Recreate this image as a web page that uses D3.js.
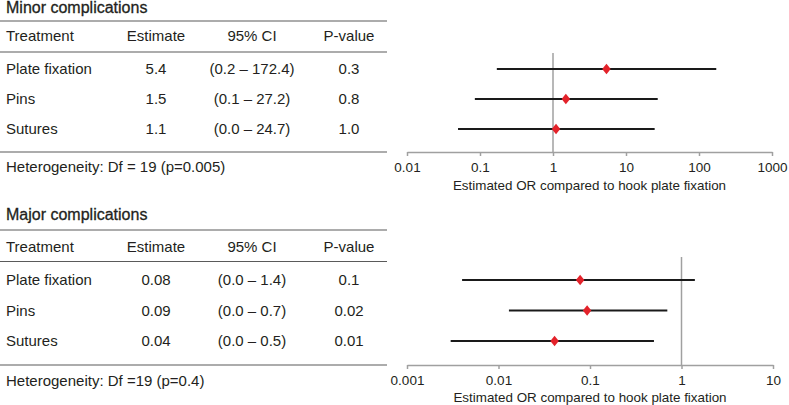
<!DOCTYPE html>
<html>
<head>
<meta charset="utf-8">
<script src="https://cdn.jsdelivr.net/npm/d3@7"></script>
<style>
  body { margin: 0; background: #fff; }
  svg { display: block; font-family: "Liberation Sans", Arial, Helvetica, sans-serif; }
</style>
</head>
<body>
<svg width="789" height="405"></svg>
<script>
  // --- data ---
  var treatments = ["Plate fixation", "Pins", "Sutures"];
  var headers = ["Treatment", "Estimate", "95% CI", "P-value"];

  var minorEstimate = [5.4, 1.5, 1.1];
  var minorLow = [0.17, 0.085, 0.05];
  var minorHigh = [172.4, 27.2, 24.7];
  var minorEstLabels = ["5.4", "1.5", "1.1"];
  var minorCiLabels = ["(0.2 \u2013 172.4)", "(0.1 \u2013 27.2)", "(0.0 \u2013 24.7)"];
  var minorP = ["0.3", "0.8", "1.0"];
  var minorTicks = [0.01, 0.1, 1, 10, 100, 1000];
  var minorTickLabels = ["0.01", "0.1", "1", "10", "100", "1000"];

  var majorEstimate = [0.078, 0.093, 0.041];
  var majorLow = [0.004, 0.013, 0.003];
  var majorHigh = [1.4, 0.7, 0.5];
  var majorEstLabels = ["0.08", "0.09", "0.04"];
  var majorCiLabels = ["(0.0 \u2013 1.4)", "(0.0 \u2013 0.7)", "(0.0 \u2013 0.5)"];
  var majorP = ["0.1", "0.02", "0.01"];
  var majorTicks = [0.001, 0.01, 0.1, 1, 10];
  var majorTickLabels = ["0.001", "0.01", "0.1", "1", "10"];

  var axisTitle = "Estimated OR compared to hook plate fixation";

  var panels = [
    {
      title: "Minor complications", foot: "Heterogeneity: Df = 19 (p=0.005)",
      est: minorEstimate, lo: minorLow, hi: minorHigh,
      estLab: minorEstLabels, ciLab: minorCiLabels, p: minorP,
      ticks: minorTicks, tickLab: minorTickLabels,
      domain: [0.01, 1000], xr: [407, 772],
      titleY: 7, topLine: 21, headY: 36, headLine: 52, rows: [69, 129],
      bottomLine: 152, footY: 167, refTop: 53, axisTitleY: 185
    },
    {
      title: "Major complications", foot: "Heterogeneity: Df =19 (p=0.4)",
      est: majorEstimate, lo: majorLow, hi: majorHigh,
      estLab: majorEstLabels, ciLab: majorCiLabels, p: majorP,
      ticks: majorTicks, tickLab: majorTickLabels,
      domain: [0.001, 10], xr: [407, 773],
      titleY: 214, topLine: 230, headY: 246.5, headLine: 261.5, rows: [280, 341],
      bottomLine: 365, footY: 380.5, refTop: 257, axisTitleY: 397
    }
  ];

  var colX = [6, 156, 252, 349];
  var tableRight = 387;
  var textColor = "#231f20";
  var ruleColor = "#5a5a5a";
  var axisColor = "#a0a0a0";

  var svg = d3.select("svg");

  panels.forEach(function (p) {
    var g = svg.append("g");
    var y = d3.scalePoint().domain(treatments).range(p.rows);
    var x = d3.scaleLog().domain(p.domain).range(p.xr);

    // title
    g.append("text")
      .attr("x", 6).attr("y", p.titleY).attr("dy", "0.35em")
      .attr("font-size", 16).attr("fill", textColor)
      .attr("stroke", textColor).attr("stroke-width", 0.3)
      .text(p.title);

    // table rules
    [p.topLine, p.headLine, p.bottomLine].forEach(function (ly) {
      g.append("line")
        .attr("x1", 0).attr("x2", tableRight)
        .attr("y1", ly).attr("y2", ly)
        .attr("stroke", ruleColor).attr("stroke-width", 1.2);
    });

    // header
    g.selectAll("text.head").data(headers).enter()
      .append("text").attr("class", "head")
      .attr("x", function (d, i) { return colX[i]; })
      .attr("y", p.headY).attr("dy", "0.35em")
      .attr("text-anchor", function (d, i) { return i === 0 ? "start" : "middle"; })
      .attr("font-size", 15).attr("fill", textColor)
      .text(function (d) { return d; });

    // rows
    var rows = treatments.map(function (t, i) {
      return [t, p.estLab[i], p.ciLab[i], p.p[i]];
    });
    rows.forEach(function (r, ri) {
      g.selectAll(null).data(r).enter()
        .append("text")
        .attr("x", function (d, i) { return colX[i]; })
        .attr("y", y(treatments[ri])).attr("dy", "0.35em")
        .attr("text-anchor", function (d, i) { return i === 0 ? "start" : "middle"; })
        .attr("font-size", 15).attr("fill", textColor)
        .text(function (d) { return d; });
    });

    // footnote
    g.append("text")
      .attr("x", 6).attr("y", p.footY).attr("dy", "0.35em")
      .attr("font-size", 15).attr("fill", textColor)
      .text(p.foot);

    // reference line at OR = 1
    g.append("line")
      .attr("x1", x(1)).attr("x2", x(1))
      .attr("y1", p.refTop).attr("y2", p.bottomLine)
      .attr("stroke", axisColor).attr("stroke-width", 1.5);

    // axis
    var axis = d3.axisBottom(x)
      .tickValues(p.ticks)
      .tickFormat(function (d, i) { return p.tickLab[i]; })
      .tickSize(4).tickSizeOuter(0).tickPadding(6);
    var ag = g.append("g")
      .attr("transform", "translate(0," + p.bottomLine + ")")
      .call(axis);
    ag.select(".domain").attr("stroke", axisColor).attr("stroke-width", 1.5);
    ag.selectAll(".tick line").attr("stroke", axisColor).attr("stroke-width", 1.5);
    ag.selectAll(".tick text")
      .attr("font-size", 13.5).attr("fill", textColor)
      .attr("font-family", "\"Liberation Sans\", Arial, sans-serif");

    g.append("text")
      .attr("x", (p.xr[0] + p.xr[1]) / 2).attr("y", p.axisTitleY).attr("dy", "0.35em")
      .attr("text-anchor", "middle")
      .attr("font-size", 13.4).attr("fill", textColor)
      .text(axisTitle);

    // CI lines
    g.selectAll("line.ci").data(treatments).enter()
      .append("line").attr("class", "ci")
      .attr("x1", function (d, i) { return x(p.lo[i]); })
      .attr("x2", function (d, i) { return x(p.hi[i]); })
      .attr("y1", function (d) { return y(d); })
      .attr("y2", function (d) { return y(d); })
      .attr("stroke", "#1a1a1a").attr("stroke-width", 2);

    // point estimates (rotated square, slightly stretched = diamond)
    g.selectAll("path.est").data(treatments).enter()
      .append("path").attr("class", "est")
      .attr("d", d3.symbol(d3.symbolSquare).size(40))
      .attr("transform", function (d, i) {
        return "translate(" + x(p.est[i]) + "," + y(d) + ") scale(0.95,1.15) rotate(45)";
      })
      .attr("fill", "#e3222a");
  });
</script>
</body>
</html>
